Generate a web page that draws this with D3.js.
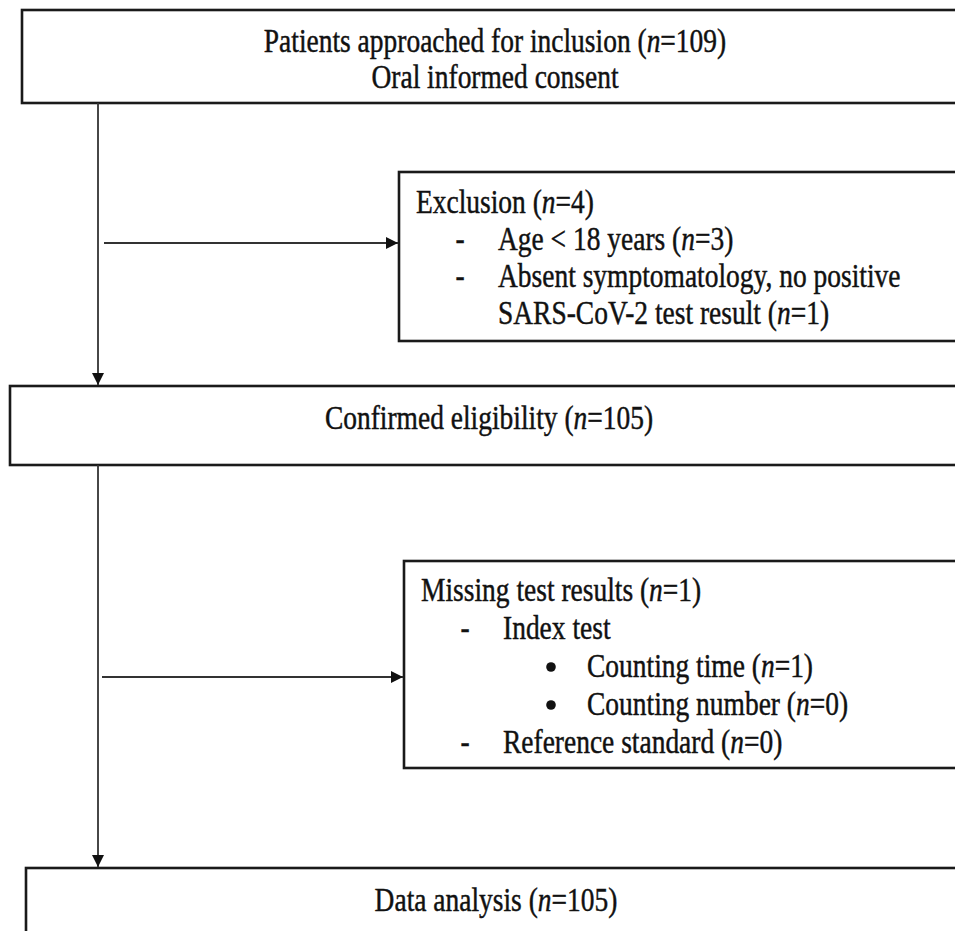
<!DOCTYPE html>
<html>
<head>
<meta charset="utf-8">
<script src="https://cdn.jsdelivr.net/npm/d3@7"></script>
<style>
  body { margin: 0; background: #fff; }
  svg { display: block; }
  text { font-family: "Liberation Serif", "Times New Roman", serif; fill: #111; stroke: #111; stroke-width: 0.45px; }
</style>
</head>
<body>
<div id="app"></div>
<script>
// flow steps (main column), in order top to bottom
const mainSteps = [
    ["Patients approached for inclusion (n=109)", "Oral informed consent"],
    ["Confirmed eligibility (n=105)"],
    ["Data analysis (n=105)"]
];

// side boxes: each line is [indent level, text]; level 0 = heading, 1 = dash item, 2 = bullet item, -1 = continued
const exclusionLines = [
    [0, "Exclusion (n=4)"],
    [1, "Age < 18 years (n=3)"],
    [1, "Absent symptomatology, no positive"],
    [-1, "SARS-CoV-2 test result (n=1)"]
];
const missingLines = [
    [0, "Missing test results (n=1)"],
    [1, "Index test"],
    [2, "Counting time (n=1)"],
    [2, "Counting number (n=0)"],
    [1, "Reference standard (n=0)"]
];

const W = 955, H = 931;
// the scanned figure is stretched vertically, so text is tall and narrow
const fontSize = 33.5;
const squeeze = 0.82;

const svg = d3.select("#app")
    .append("svg")
    .attr("width", W)
    .attr("height", H);

const defs = svg.append("defs");
defs.append("marker")
    .attr("id", "head")
    .attr("viewBox", "0 0 10 10")
    .attr("refX", 10)
    .attr("refY", 5)
    .attr("markerUnits", "userSpaceOnUse")
    .attr("markerWidth", 14)
    .attr("markerHeight", 12)
    .attr("orient", "auto")
    .append("path")
    .attr("d", "M0,0 L10,5 L0,10 Z")
    .attr("fill", "#111");

// write a line, putting the "n" of "(n=..)" in italics
const writeLine = (sel, str) => {
    const m = str.match(/^(.*\()n(=.*)$/);
    if (!m) { sel.text(str); return; }
    sel.append("tspan").text(m[1]);
    sel.append("tspan").attr("font-style", "italic").text("n");
    sel.append("tspan").text(m[2]);
};

const addText = (x, y, str, anchor) => svg.append("text")
    .attr("transform", `translate(${x},${y}) scale(${squeeze},1)`)
    .attr("text-anchor", anchor || "start")
    .attr("font-size", fontSize)
    .call(writeLine, str);

// layout of boxes (pixels)
const mainBoxes = [
    { x: 22, y: 10, w: 950, h: 93, cx: 495, base: [52, 88] },
    { x: 10, y: 386, w: 960, h: 79, cx: 489, base: [429] },
    { x: 26, y: 868, w: 950, h: 80, cx: 496, base: [911] }
];
const sideBoxes = [
    { x: 399, y: 172, w: 570, h: 169, lines: exclusionLines, top: 213, step: 37 },
    { x: 404, y: 561, w: 570, h: 207, lines: missingLines, top: 601, step: 38 }
];

const boxStroke = "#1a1a1a";

mainBoxes.forEach((b, i) => {
    svg.append("rect")
        .attr("x", b.x).attr("y", b.y)
        .attr("width", b.w).attr("height", b.h)
        .attr("fill", "#fff")
        .attr("stroke", boxStroke)
        .attr("stroke-width", 2.6);
    mainSteps[i].forEach((line, j) => addText(b.cx, b.base[j], line, "middle"));
});

const indentX = { 0: 17, 1: 99, 2: 183, "-1": 99 };
sideBoxes.forEach(b => {
    svg.append("rect")
        .attr("x", b.x).attr("y", b.y)
        .attr("width", b.w).attr("height", b.h)
        .attr("fill", "#fff")
        .attr("stroke", boxStroke)
        .attr("stroke-width", 2.6);
    b.lines.forEach(([lvl, line], j) => {
        const y = b.top + j * b.step;
        if (lvl === 1) addText(b.x + 61, y, "-", "middle");
        if (lvl === 2) {
            svg.append("circle")
                .attr("cx", b.x + 147).attr("cy", y - 10)
                .attr("r", 4.8)
                .attr("fill", "#111");
        }
        addText(b.x + indentX[lvl], y, line);
    });
});

// connectors
const lineColor = "#333";
const spineX = 98;
const arrows = [
    { x1: spineX, y1: 103, x2: spineX, y2: 385 },
    { x1: spineX, y1: 465, x2: spineX, y2: 867 },
    { x1: 104, y1: 243, x2: 398, y2: 243 },
    { x1: 102, y1: 677, x2: 403, y2: 677 }
];
svg.selectAll("line.conn")
    .data(arrows)
    .enter()
    .append("line")
    .attr("class", "conn")
    .attr("x1", d => d.x1).attr("y1", d => d.y1)
    .attr("x2", d => d.x2).attr("y2", d => d.y2)
    .attr("stroke", lineColor)
    .attr("stroke-width", 1.8)
    .attr("marker-end", "url(#head)");
</script>
</body>
</html>
